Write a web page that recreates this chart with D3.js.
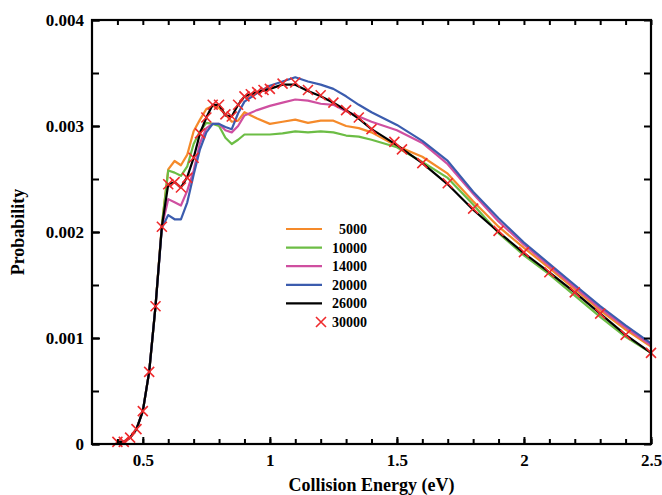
<!DOCTYPE html>
<html>
<head>
<meta charset="utf-8">
<script src="https://cdn.jsdelivr.net/npm/d3@7"></script>
<style>
  body { margin: 0; background: #fff; }
  svg text { font-family: "Liberation Serif", "Times New Roman", serif; font-weight: bold; fill: #000; }
</style>
</head>
<body>
<svg id="chart" width="662" height="495"></svg>
<script>
// energies shared by the line series (eV)
var energies = [0.4, 0.425, 0.45, 0.475, 0.5, 0.525, 0.55, 0.575, 0.6, 0.625, 0.65, 0.675, 0.7, 0.725, 0.75, 0.775, 0.8, 0.825, 0.85, 0.875, 0.9, 0.95, 1.0, 1.05, 1.1, 1.15, 1.2, 1.25, 1.3, 1.35, 1.4, 1.5, 1.6, 1.7, 1.8, 1.9, 2.0, 2.1, 2.2, 2.3, 2.4, 2.5];

var p5000  = [0.00002, 0.00002, 0.00006, 0.00014, 0.00031, 0.00068, 0.0013, 0.00207, 0.00259, 0.00267, 0.00263, 0.00273, 0.00295, 0.00306, 0.00316, 0.00319, 0.00317, 0.00311, 0.00304, 0.00305, 0.00313, 0.00307, 0.00302, 0.00304, 0.00306, 0.00303, 0.00305, 0.00305, 0.003, 0.00298, 0.00294, 0.00281, 0.00271, 0.00255, 0.00229, 0.00205, 0.00185, 0.00166, 0.00146, 0.00126, 0.00108, 0.00092];
var p10000 = [0.00002, 0.00002, 0.00006, 0.00014, 0.00031, 0.00068, 0.0013, 0.00206, 0.00258, 0.00256, 0.00253, 0.00262, 0.00283, 0.00295, 0.00303, 0.00302, 0.003, 0.00289, 0.00283, 0.00287, 0.00292, 0.00292, 0.00292, 0.00293, 0.00295, 0.00294, 0.00295, 0.00294, 0.00291, 0.0029, 0.00287, 0.0028, 0.00266, 0.00251, 0.00226, 0.00199, 0.00178, 0.0016, 0.0014, 0.0012, 0.00101, 0.00086];
var p14000 = [0.00002, 0.00002, 0.00006, 0.00014, 0.00031, 0.00068, 0.0013, 0.00205, 0.00231, 0.00228, 0.00225, 0.00239, 0.00258, 0.00284, 0.00298, 0.00302, 0.00302, 0.00296, 0.00294, 0.003, 0.0031, 0.00315, 0.00319, 0.00322, 0.00325, 0.00324, 0.00321, 0.0032, 0.00314, 0.00309, 0.00304, 0.00296, 0.00284, 0.00264, 0.00236, 0.0021, 0.00188, 0.00168, 0.00148, 0.00128, 0.0011, 0.00093];
var p20000 = [0.00002, 0.00002, 0.00006, 0.00014, 0.00031, 0.00068, 0.0013, 0.00204, 0.00216, 0.00212, 0.00212, 0.00228, 0.00254, 0.00278, 0.00294, 0.00302, 0.00302, 0.00299, 0.00297, 0.00312, 0.00323, 0.00331, 0.00338, 0.00342, 0.00346, 0.00342, 0.00339, 0.00335, 0.00328, 0.0032, 0.00313, 0.00301, 0.00286, 0.00267, 0.00238, 0.00213, 0.0019, 0.0017, 0.0015, 0.0013, 0.00112, 0.00095];
var p26000 = [0.00002, 0.00002, 0.00006, 0.00014, 0.00031, 0.00068, 0.0013, 0.00205, 0.00245, 0.00247, 0.00242, 0.00252, 0.0027, 0.00293, 0.00308, 0.0032, 0.0032, 0.0031, 0.00309, 0.0032, 0.00328, 0.00332, 0.00335, 0.00339, 0.00339, 0.00333, 0.00328, 0.00322, 0.00315, 0.00307, 0.00297, 0.00282, 0.00265, 0.00245, 0.00221, 0.002, 0.0018, 0.00162, 0.00143, 0.00123, 0.00103, 0.00086];

// 30000 is drawn as crosses on its own energy grid
var energies30000 = [0.4, 0.425, 0.45, 0.475, 0.5, 0.525, 0.55, 0.575, 0.6, 0.625, 0.65, 0.675, 0.7, 0.725, 0.75, 0.775, 0.8, 0.825, 0.85, 0.875, 0.9, 0.925, 0.95, 0.975, 1.0, 1.05, 1.1, 1.15, 1.2, 1.25, 1.3, 1.35, 1.4, 1.49, 1.52, 1.6, 1.7, 1.8, 1.9, 2.0, 2.1, 2.2, 2.3, 2.4, 2.5];
var p30000 = [0.00002, 0.00002, 0.00006, 0.00014, 0.00031, 0.00068, 0.0013, 0.00205, 0.00245, 0.00247, 0.00242, 0.00251, 0.0027, 0.00293, 0.00308, 0.0032, 0.0032, 0.00311, 0.00309, 0.0032, 0.00328, 0.0033, 0.00332, 0.00334, 0.00335, 0.0034, 0.00341, 0.00334, 0.00329, 0.00322, 0.00315, 0.00308, 0.00297, 0.00285, 0.00278, 0.00265, 0.00246, 0.00222, 0.00201, 0.00181, 0.00162, 0.00143, 0.00123, 0.00103, 0.00086];

var xTicks = [0.5, 1, 1.5, 2, 2.5];
var yTicks = [0, 0.001, 0.002, 0.003, 0.004];

var lineSeries = [
  { name: "5000",  values: p5000,  color: "#f58a2a" },
  { name: "10000", values: p10000, color: "#6cbd45" },
  { name: "14000", values: p14000, color: "#cf4fa0" },
  { name: "20000", values: p20000, color: "#3b5cae" },
  { name: "26000", values: p26000, color: "#000000" }
];
var crossColor = "#ef2b2d";

const margin = { top: 20, right: 11, bottom: 51, left: 92 };
const svg = d3.select("#chart");
const W = +svg.attr("width"), H = +svg.attr("height");
const w = W - margin.left - margin.right;
const h = H - margin.top - margin.bottom;

const g = svg.append("g").attr("transform", `translate(${margin.left},${margin.top})`);

const x = d3.scaleLinear().domain([0.3, 2.5]).range([0, w]);
const y = d3.scaleLinear().domain([0, 0.004]).range([h, 0]);

const minorX = d3.range(0.4, 2.5001, 0.1).map(d => +d.toFixed(2));
const minorY = d3.range(0, 0.00401, 0.0005).map(d => +d.toFixed(4));
const fmtY = d => d === 0 ? "0" : d3.format(".3f")(d);

// lines
const line = d3.line().x(d => x(d[0])).y(d => y(d[1]));
lineSeries.forEach(s => {
  g.append("path")
    .datum(energies.map((e, i) => [e, s.values[i]]))
    .attr("fill", "none")
    .attr("stroke", s.color)
    .attr("stroke-width", 2.2)
    .attr("stroke-linejoin", "round")
    .attr("d", line);
});

// crosses for 30000
function cross(sel, size) {
  sel.append("path")
    .attr("d", `M${-size},${-size}L${size},${size}M${-size},${size}L${size},${-size}`)
    .attr("stroke", crossColor)
    .attr("stroke-width", 1.6)
    .attr("fill", "none");
}
g.selectAll(".cross")
  .data(energies30000.map((e, i) => [e, p30000[i]]))
  .enter().append("g")
  .attr("class", "cross")
  .attr("transform", d => `translate(${x(d[0])},${y(d[1])})`)
  .each(function() { cross(d3.select(this), 5); });

// axes, ticks inward on all four sides
function styleAxis(a) {
  a.select(".domain").remove();
  a.selectAll("line").attr("stroke", "#000").attr("stroke-width", 2);
  a.selectAll("text").style("font-size", "17px").attr("fill", "#000");
}
g.append("g").attr("transform", `translate(0,${h})`)
  .call(d3.axisBottom(x).tickValues(minorX).tickSize(-5).tickFormat(""))
  .call(styleAxis);
g.append("g").attr("transform", `translate(0,${h})`)
  .call(d3.axisBottom(x).tickValues(xTicks).tickSize(-7).tickPadding(10).tickFormat(d3.format("")))
  .call(styleAxis);
g.append("g")
  .call(d3.axisTop(x).tickValues(minorX).tickSize(-5).tickFormat(""))
  .call(styleAxis);
g.append("g")
  .call(d3.axisLeft(y).tickValues(minorY).tickSize(-7).tickFormat(""))
  .call(styleAxis);
g.append("g")
  .call(d3.axisLeft(y).tickValues(yTicks).tickSize(-8).tickPadding(8).tickFormat(fmtY))
  .call(styleAxis);
g.append("g").attr("transform", `translate(${w},0)`)
  .call(d3.axisRight(y).tickValues(minorY).tickSize(-7).tickFormat(""))
  .call(styleAxis);

// frame
g.append("rect")
  .attr("width", w).attr("height", h)
  .attr("fill", "none").attr("stroke", "#000").attr("stroke-width", 2.2);

// axis titles
svg.append("text")
  .attr("x", margin.left + w / 2)
  .attr("y", 491)
  .attr("text-anchor", "middle")
  .style("font-size", "18px")
  .text("Collision Energy (eV)");
svg.append("text")
  .attr("transform", `translate(24,${margin.top + h / 2}) rotate(-90)`)
  .attr("text-anchor", "middle")
  .style("font-size", "18px")
  .text("Probability");

// legend
const legend = svg.append("g").attr("transform", "translate(286,229)");
const rowH = 18.6;
lineSeries.forEach((s, i) => {
  legend.append("line")
    .attr("x1", 0).attr("x2", 36)
    .attr("y1", i * rowH).attr("y2", i * rowH)
    .attr("stroke", s.color).attr("stroke-width", 2.2);
  legend.append("text")
    .attr("x", 81).attr("y", i * rowH + 5)
    .attr("text-anchor", "end")
    .style("font-size", "14px")
    .text(s.name);
});
const lastRow = legend.append("g").attr("transform", `translate(35,${lineSeries.length * rowH})`);
cross(lastRow, 5);
legend.append("text")
  .attr("x", 81).attr("y", lineSeries.length * rowH + 5)
  .attr("text-anchor", "end")
  .style("font-size", "14px")
  .text("30000");
</script>
</body>
</html>
